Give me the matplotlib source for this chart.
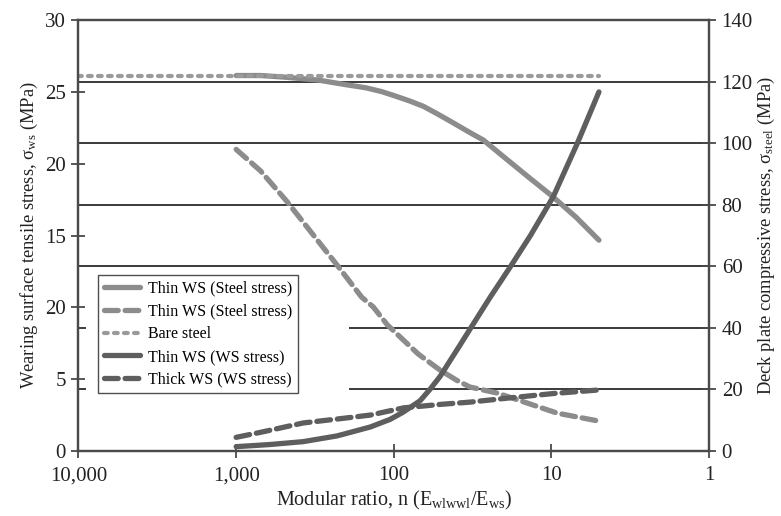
import matplotlib
matplotlib.use("Agg")
import matplotlib.pyplot as plt
from matplotlib.ticker import NullLocator

plt.rcParams['font.family'] = ['Liberation Serif', 'DejaVu Serif']
plt.rcParams['mathtext.fontset'] = 'custom'
plt.rcParams['mathtext.rm'] = 'Liberation Serif'
plt.rcParams['mathtext.it'] = 'Liberation Serif:italic'

# Modular ratio n (x) and stresses
n_thin_steel = [1000, 700, 500, 300, 200, 150, 120, 100, 80, 65, 55, 45, 33, 27, 20, 14, 10, 7, 5]
thin_steel = [122, 122, 121.5, 120.5, 119, 118, 116.8, 115.5, 113.8, 112, 110, 107.5, 103.5,
              101, 95.5, 89, 83, 76, 68.5]

n_thick_steel = [1000, 700, 475, 300, 229, 160, 135, 110, 91, 70, 51, 40, 33, 22, 14.3, 9.2, 5]
thick_steel = [98, 91, 81, 68, 60.4, 50, 46.8, 41, 37, 31.5, 26.3, 23, 20.8, 18.8, 15.6, 12.3, 9.7]

n_bare = [10000, 5]
bare_steel = [122, 122]

n_thin_ws = [1000, 610, 376, 229, 141, 105.6, 87.3, 68.1, 58.9, 50.8, 43.9, 37.9, 32.8,
             24.5, 18.3, 13.6, 9.75, 6.87, 5]
thin_ws = [0.3, 0.45, 0.65, 1.05, 1.67, 2.2, 2.7, 3.5, 4.3, 5.2, 6.3, 7.4, 8.5,
           10.7, 12.8, 15.0, 17.7, 21.4, 25.0]

n_thick_ws = [1000, 700, 376, 200, 141, 87, 50, 33, 18.3, 9.75, 5]
thick_ws = [0.95, 1.3, 1.95, 2.3, 2.5, 3.0, 3.25, 3.4, 3.7, 4.0, 4.25]

x_ticks = [10000, 1000, 100, 10, 1]
x_labels = ["10,000", "1,000", "100", "10", "1"]
left_ticks = [0, 5, 10, 15, 20, 25, 30]
left_labels = ["0", "5", "20", "15", "20", "25", "30"]
right_ticks = [0, 20, 40, 60, 80, 100, 120, 140]

light = '#8c8c8c'
dotted = '#9a9a9a'
dark = '#5e5e5e'
axis_col = '#4a4a4a'
text_col = '#222222'

fig = plt.figure(figsize=(7.81, 5.16), dpi=100)
ax = fig.add_axes([0.1005, 0.126, 0.8075, 0.835])
ax2 = ax.twinx()
ax.set_zorder(ax2.get_zorder() + 1)
ax.patch.set_visible(False)

ax.set_xscale('log')
ax.set_xlim(10000, 1)
ax.set_ylim(0, 30)
ax2.set_ylim(0, 140)

# horizontal reference lines at the steel-stress ticks
for v in [60, 80, 100, 120]:
    ax2.axhline(v, color='#3a3a3a', lw=1.4, zorder=0)
for v in [20, 40]:
    ax2.axhline(v, xmin=0.431, xmax=1, color='#3a3a3a', lw=1.4, zorder=0)
    ax2.axhline(v, xmin=0, xmax=0.011, color='#3a3a3a', lw=1.4, zorder=0)

lw = 3.8
l1, = ax2.plot(n_thin_steel, thin_steel, color=light, lw=lw, solid_capstyle='round',
               solid_joinstyle='round', label='Thin WS (Steel stress)')
l2, = ax2.plot(n_thick_steel, thick_steel, color=light, lw=lw, dashes=(2.6, 1.3),
               dash_capstyle='round', label='Thin WS (Steel stress)')
l3, = ax2.plot(n_bare, bare_steel, color=dotted, lw=3.0, dashes=(0.9, 1.5),
               dash_capstyle='round', label='Bare steel')
l4, = ax.plot(n_thin_ws, thin_ws, color=dark, lw=lw, solid_capstyle='round',
              solid_joinstyle='round', label='Thin WS (WS stress)')
l5, = ax.plot(n_thick_ws, thick_ws, color=dark, lw=lw, dashes=(2.6, 1.3),
              dash_capstyle='round', label='Thick WS (WS stress)')

ax.set_xticks(x_ticks)
ax.set_xticklabels(x_labels)
ax.xaxis.set_minor_locator(NullLocator())
ax.set_yticks(left_ticks)
ax.set_yticklabels(left_labels)
ax2.set_yticks(right_ticks)

for a in (ax, ax2):
    a.tick_params(axis='both', direction='inout', length=10, width=1.3, color=axis_col,
                  labelsize=15, labelcolor=text_col, pad=4)
    for s in a.spines.values():
        s.set_color(axis_col)
        s.set_linewidth(1.6)
ax.tick_params(axis='x', pad=6)

ax.set_xlabel(r"Modular ratio, n (E$_{\mathrm{wlwwl}}$/E$_{\mathrm{ws}}$)", fontsize=14.5,
              color=text_col, labelpad=3)
ax.set_ylabel(r"Wearing surface tensile stress, σ$_{\mathrm{ws}}$ (MPa)", fontsize=13.3,
              color=text_col, labelpad=4)
ax2.set_ylabel(r"Deck plate compressive stress, σ$_{\mathrm{steel}}$ (MPa)", fontsize=13.3,
               color=text_col, labelpad=2)

leg = ax.legend(handles=[l1, l2, l3, l4, l5], loc='upper left', bbox_to_anchor=(0.031, 0.408),
                borderaxespad=0, fontsize=11.5, frameon=True, fancybox=False,
                handlelength=2.3, handletextpad=0.5, labelspacing=0.42, borderpad=0.35)
leg.get_frame().set_edgecolor(text_col)
leg.get_frame().set_linewidth(1.0)

fig.savefig('out.png', dpi=100)
